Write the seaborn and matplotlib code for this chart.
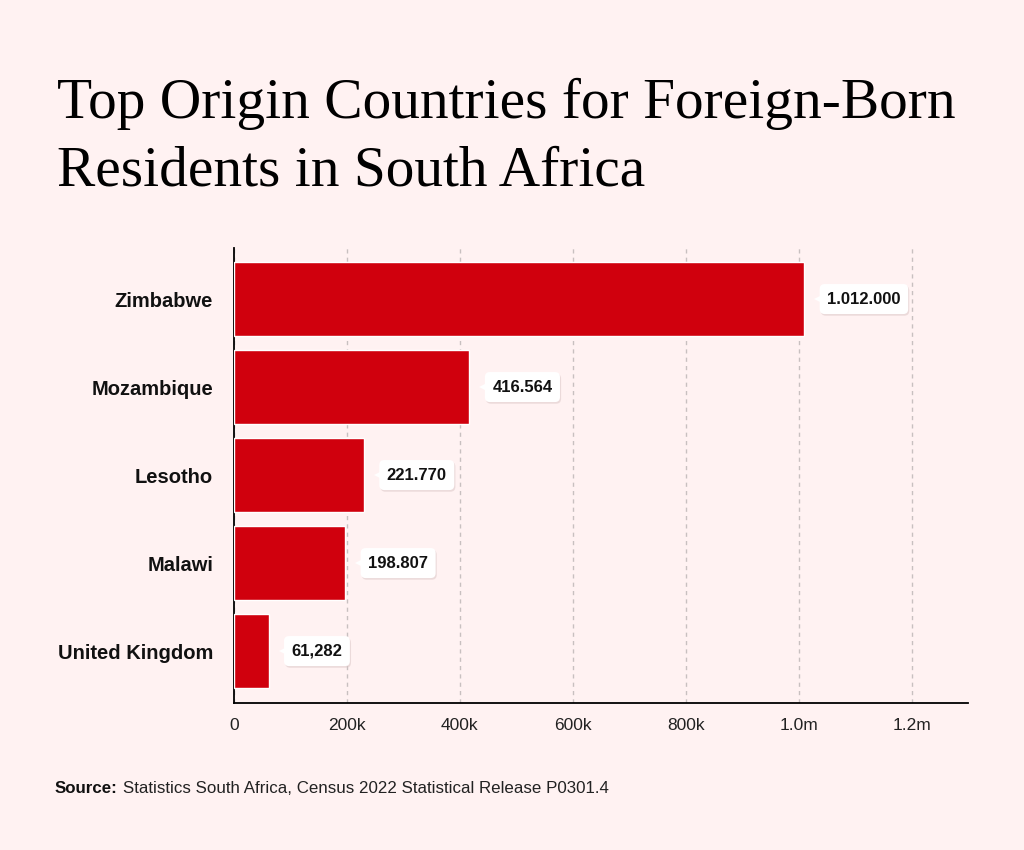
import matplotlib
matplotlib.use("Agg")
import matplotlib.pyplot as plt
import matplotlib.transforms as mtransforms
import matplotlib.patheffects as pe
import seaborn as sns
import pandas as pd

countries = ["Zimbabwe", "Mozambique", "Lesotho", "Malawi", "United Kingdom"]
bar_values = [1010000, 417000, 230000, 197000, 61282]
value_labels = ["1.012.000", "416.564", "221.770", "198.807", "61,282"]
tick_values = [0, 200000, 400000, 600000, 800000, 1000000, 1200000]
tick_labels = ["0", "200k", "400k", "600k", "800k", "1.0m", "1.2m"]

BG = "#FFF2F2"
RED = "#D0000D"

sns.set_theme(style="white")
plt.rcParams["font.family"] = ["Liberation Sans", "DejaVu Sans"]

df = pd.DataFrame({"country": countries, "value": bar_values})

fig = plt.figure(figsize=(10.24, 8.5), dpi=100, facecolor=BG)
ax = fig.add_axes([234/1024, 1-703/850, (968-234)/1024, (703-248)/850])
ax.set_facecolor(BG)

sns.barplot(data=df, x="value", y="country", color=RED, width=0.84,
            saturation=1, ax=ax, zorder=3)

ax.set_xlim(0, 1300000)
ax.set_ylim(4.59, -0.58)
ax.set_xticks(tick_values)
ax.set_xticklabels(tick_labels, fontsize=12.5, color="#222222")
ax.tick_params(axis="x", length=6, width=1.2, color="black", pad=5)
ax.tick_params(axis="y", length=0, pad=15)
for lab in ax.get_yticklabels():
    lab.set_fontweight("bold")
    lab.set_fontsize(14.5)
    lab.set_color("#111111")
ax.set_xlabel("")
ax.set_ylabel("")
for s in ["top", "right"]:
    ax.spines[s].set_visible(False)
for s in ["left", "bottom"]:
    ax.spines[s].set_color("black")
    ax.spines[s].set_linewidth(1.3)
ax.xaxis.grid(True, linestyle=(0, (3, 3)), color="#C8C0C0", linewidth=1, zorder=0)
ax.set_axisbelow(True)

for i, (v, lab) in enumerate(zip(bar_values, value_labels)):
    ann = ax.annotate(lab, xy=(v, i), xytext=(16.5, 0), textcoords="offset points",
                      ha="left", va="center", fontsize=12, fontweight="bold",
                      color="#111111",
                      bbox=dict(boxstyle="round,pad=0.45,rounding_size=0.3", fc="white",
                                ec="none"), zorder=5)
    ann.get_bbox_patch().set_path_effects(
        [pe.SimplePatchShadow(offset=(0.8, -1.2), shadow_rgbFace="#D9C4C4", alpha=0.5),
         pe.Normal()])
    tr = mtransforms.offset_copy(ax.transData, fig=fig, x=11.5, y=0, units="points")
    ax.plot([v], [i], marker="<", markersize=9, color="white", transform=tr,
            zorder=6, clip_on=False, markeredgewidth=0)

title_font = ["Liberation Serif", "DejaVu Serif"]
fig.text(57/1024, 1-118/850, "Top Origin Countries for Foreign-Born",
         fontsize=41.3, family=title_font, color="black", va="baseline", ha="left")
fig.text(57/1024, 1-185/850, "Residents in South Africa",
         fontsize=41.3, family=title_font, color="black", va="baseline", ha="left")

t1 = fig.text(55/1024, 1-793/850, "Source:", fontsize=12.2, fontweight="bold",
              color="#111111", va="baseline", ha="left")
fig.canvas.draw()
bb = t1.get_window_extent()
fig.text((bb.x1 + 5)/1024, 1-793/850,
         "Statistics South Africa, Census 2022 Statistical Release P0301.4",
         fontsize=12.2, color="#222222", va="baseline", ha="left")

fig.savefig("out.png", dpi=100, facecolor=BG)
